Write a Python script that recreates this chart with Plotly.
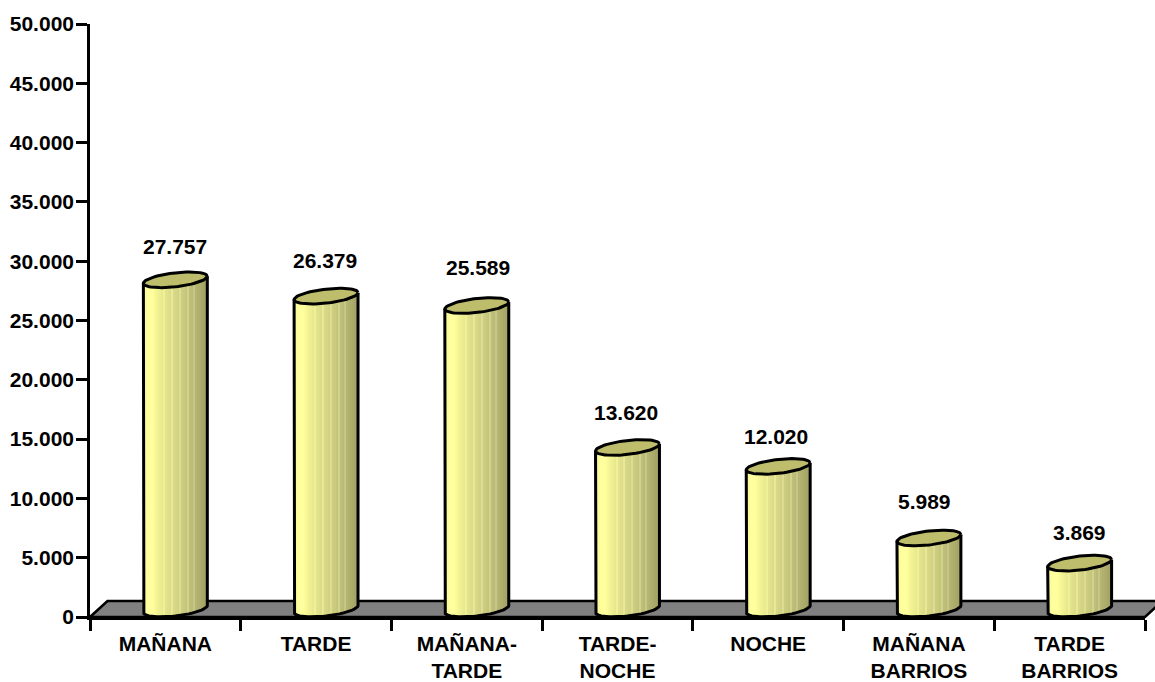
import numpy as np
import plotly.graph_objects as go

categories = ["MAÑANA", "TARDE", "MAÑANA-<br>TARDE", "TARDE-<br>NOCHE", "NOCHE", "MAÑANA<br>BARRIOS", "TARDE<br>BARRIOS"]
values = [27757, 26379, 25589, 13620, 12020, 5989, 3869]
y_ticks = list(range(0, 50001, 5000))

# layout in pixels
W, H = 1155, 682
L, R, T, B = 89.5, 1145.5, 24, 617
px_y = 50000 / (B - T)
px_x = 7 / (R - L)
A = 32 * px_x          # half width of cylinder
SHIFT = 10 * px_x      # 3D offset to the right
DEPTH = 8 * px_y       # 3D offset upward
TILT = 3.5 * px_y
EB = 7 * px_y
FS = 21

# per-label placement of the value captions (pixels)
label_dy = [41, 44, 46, 43, 38, 44, 39]
label_dx = [0, -1, 1, -1, -2, -4, 0]

shades = ["#F2F29A", "#FCFC9E", "#FFFF9E", "#FFFF9E", "#FFFF9D", "#FBFB9A", "#F6F697", "#F1F194",
          "#EDED92", "#E9E990", "#F0F098", "#E3E38D", "#E0E08B", "#DDDD89", "#E8E89A", "#D8D887",
          "#D5D585", "#D2D283", "#DCDC94", "#CDCD80", "#CACA7E", "#C6C67B", "#D2D290", "#BFBF78",
          "#BBBB76", "#C6C68A", "#B5B571", "#B1B16E", "#ADAD6C", "#A9A969", "#A5A567", "#A1A164"]

xs = list(range(len(values)))
fig = go.Figure()

N = len(shades)
dw = 2 * A / N
for k, col in enumerate(shades):
    u = (k + 0.5) / N * 2 - 1
    base = [DEPTH + TILT * u - EB * np.sqrt(1 - u * u)] * len(values)
    top = [v + DEPTH + TILT * u for v in values]
    fig.add_trace(go.Bar(
        x=xs, y=[t - b for t, b in zip(top, base)], base=base,
        width=dw * 1.02, offset=SHIFT + u * A - dw / 2,
        marker=dict(color=col, line=dict(width=0)),
        hoverinfo="skip", showlegend=False))

t = np.linspace(0, 2 * np.pi, 73)
for x, v in zip(xs, values):
    cx = x + SHIFT
    # top cap
    fig.add_trace(go.Scatter(
        x=cx + A * np.cos(t), y=v + DEPTH + TILT * np.cos(t) + EB * np.sin(t),
        mode="lines", fill="toself", fillcolor="#BDBD6C",
        line=dict(color="black", width=3), hoverinfo="skip", showlegend=False))
    # sides and bottom curve
    tt = np.linspace(np.pi, 2 * np.pi, 37)
    sx = np.concatenate([[cx - A], cx + A * np.cos(tt), [cx + A]])
    sy = np.concatenate([[v + DEPTH - TILT], DEPTH + TILT * np.cos(tt) + EB * np.sin(tt), [v + DEPTH + TILT]])
    fig.add_trace(go.Scatter(
        x=sx, y=sy, mode="lines", line=dict(color="black", width=3),
        hoverinfo="skip", showlegend=False))

for x, v, dy, dx in zip(xs, values, label_dy, label_dx):
    fig.add_annotation(x=x + SHIFT, y=v, yref="y", xref="x", yshift=dy, xshift=dx, showarrow=False,
                       text=f"{v:,}".replace(",", "."),
                       font=dict(family="Liberation Sans", size=FS, color="black", weight="bold"))


def fx(p):
    return (p - L) / (R - L)


def fy(p):
    return (B - p) / (B - T)


floor = "M {} {} L {} {} L {} {} L {} {} Z".format(
    fx(L), fy(B), fx(107), fy(601), fx(1163), fy(601), fx(R), fy(B))
fig.add_shape(type="path", path=floor, xref="paper", yref="paper", layer="below",
              fillcolor="#808080", line=dict(color="black", width=2.6))

fig.update_layout(
    width=W, height=H, autosize=False,
    margin=dict(l=L, r=W - R, t=T, b=H - B),
    paper_bgcolor="white", plot_bgcolor="white",
    barmode="overlay", bargap=0, separators=",.",
    font=dict(family="Liberation Sans", size=FS, color="black"),
    showlegend=False,
    xaxis=dict(
        automargin=False,
        range=[-0.5, 6.5], showgrid=False, zeroline=False, showline=True, linecolor="black", linewidth=2.6,
        tickmode="array", tickvals=xs, ticktext=[f"<b>{c}</b>".replace("<br>", "</b><br><b>") for c in categories],
        ticks="outside", ticklen=6, tickcolor="rgba(0,0,0,0)", tickwidth=1,
        minor=dict(tickmode="array", tickvals=[i - 0.5 for i in range(8)], ticks="outside", ticklen=11,
                   tickwidth=2.6, tickcolor="black"),
        tickfont=dict(family="Liberation Sans", size=FS, color="black"),
    ),
    yaxis=dict(
        automargin=False,
        range=[0, 50000], showgrid=False, zeroline=False, showline=True, linecolor="black", linewidth=2.6,
        tickmode="array", tickvals=y_ticks, tickformat=",.0f",
        ticks="outside", ticklen=11, tickwidth=2.6, tickcolor="black", ticklabelstandoff=-2,
        tickfont=dict(family="Liberation Sans", size=FS, color="black", weight="bold"),
    ),
)

fig.write_html("out.html", config={"displayModeBar": False},
               post_script="document.body.style.margin='0';")
